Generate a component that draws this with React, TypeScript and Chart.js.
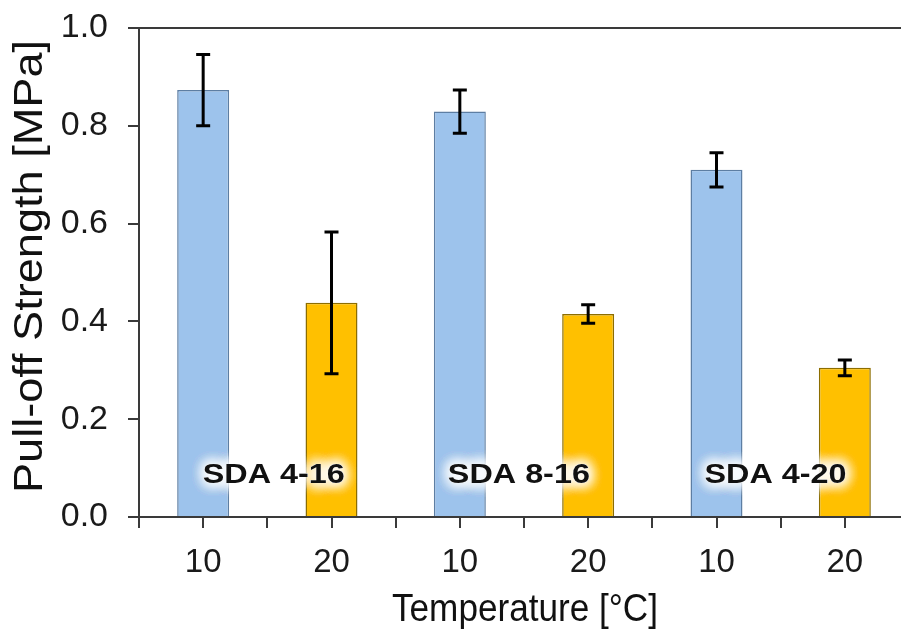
import React, { useEffect, useRef } from 'react';
import { Chart, registerables } from 'chart.js';

Chart.register(...registerables);

// ---- data ----
const temperatures = ['10', '20', '10', '20', '10', '20'];
const strength = [0.873, 0.438, 0.829, 0.415, 0.71, 0.305];
const strengthErr = [0.073, 0.145, 0.044, 0.019, 0.035, 0.016];
const groups = ['SDA 4-16', 'SDA 8-16', 'SDA 4-20'];
const groupLabelX = [0.55, 2.46, 4.46];
const groupLabelY = 0.07;
const yTicks = [0, 0.2, 0.4, 0.6, 0.8, 1.0];
const xTitle = 'Temperature [°C]';
const yTitle = 'Pull-off Strength [MPa]';

const FONT = '"Liberation Sans", Arial, Helvetica, sans-serif';
const BLUE = '#9dc3ec';
const BLUE_EDGE = '#5d7ea3';
const ORANGE = '#ffc000';
const ORANGE_EDGE = '#8c6d00';
const AXIS = '#3a3a3a';

function drawScaled(
  ctx: CanvasRenderingContext2D,
  text: string,
  x: number,
  y: number,
  font: string,
  targetWidth: number,
  rotate = 0
) {
  ctx.save();
  ctx.font = font;
  const w = ctx.measureText(text).width;
  const s = targetWidth / w;
  ctx.translate(x, y);
  if (rotate) ctx.rotate(rotate);
  ctx.scale(s, 1);
  ctx.textAlign = 'center';
  ctx.textBaseline = 'alphabetic';
  ctx.fillText(text, 0, 0);
  ctx.restore();
}

const decorPlugin = {
  id: 'decor',
  afterDatasetsDraw(chart: any) {
    const ctx: CanvasRenderingContext2D = chart.ctx;
    const xs = chart.scales.x;
    const ys = chart.scales.y;
    const area = chart.chartArea;

    // top frame line
    ctx.save();
    ctx.strokeStyle = AXIS;
    ctx.lineWidth = 2;
    ctx.beginPath();
    ctx.moveTo(area.left, area.top);
    ctx.lineTo(area.right, area.top);
    ctx.stroke();
    ctx.restore();

    // error bars
    ctx.save();
    ctx.strokeStyle = '#000';
    ctx.lineWidth = 3;
    strength.forEach((v, i) => {
      const x = xs.getPixelForValue(i);
      const yt = ys.getPixelForValue(v + strengthErr[i]);
      const yb = ys.getPixelForValue(v - strengthErr[i]);
      ctx.beginPath();
      ctx.moveTo(x, yt);
      ctx.lineTo(x, yb);
      ctx.moveTo(x - 7, yt);
      ctx.lineTo(x + 7, yt);
      ctx.moveTo(x - 7, yb);
      ctx.lineTo(x + 7, yb);
      ctx.stroke();
    });
    ctx.restore();

    // group labels with white glow
    groups.forEach((g, k) => {
      const x = xs.getPixelForValue(groupLabelX[k]);
      const y = ys.getPixelForValue(groupLabelY);
      const font = `bold 28px ${FONT}`;
      ctx.save();
      ctx.fillStyle = '#ffffff';
      ctx.shadowColor = 'rgba(255,255,255,1)';
      ctx.shadowBlur = 14;
      for (let r = 0; r < 6; r++) drawScaled(ctx, g, x, y, font, 142);
      ctx.restore();
      ctx.save();
      ctx.fillStyle = '#111111';
      drawScaled(ctx, g, x, y, font, 142);
      ctx.restore();
    });

    // axis titles
    ctx.save();
    ctx.fillStyle = '#111111';
    drawScaled(ctx, xTitle, (area.left + area.right) / 2 + 1, 621, `38px ${FONT}`, 266);
    drawScaled(ctx, yTitle, 42, 266.5, `40px ${FONT}`, 453, -Math.PI / 2);
    ctx.restore();
  },
};

export default function App() {
  const ref = useRef<HTMLCanvasElement | null>(null);

  useEffect(() => {
    if (!ref.current) return;
    const xTickValues: number[] = [];
    for (let i = 0; i <= temperatures.length * 2; i++) xTickValues.push(i / 2 - 0.5);

    const chart = new Chart(ref.current, {
      type: 'bar',
      data: {
        datasets: [
          {
            data: strength.map((v, i) => ({ x: i, y: v })),
            backgroundColor: strength.map((_, i) => (i % 2 === 0 ? BLUE : ORANGE)),
            borderColor: strength.map((_, i) => (i % 2 === 0 ? BLUE_EDGE : ORANGE_EDGE)),
            borderWidth: 1.5,
            borderSkipped: 'bottom',
            categoryPercentage: 1,
            barPercentage: 0.81,
          },
        ],
      },
      options: {
        animation: false,
        responsive: false,
        devicePixelRatio: 1,
        events: [],
        layout: { padding: { top: 28, right: 11, left: 0, bottom: 0 } },
        plugins: {
          legend: { display: false },
          tooltip: { enabled: false },
          title: { display: false },
        },
        scales: {
          x: {
            type: 'linear',
            min: -0.5,
            max: temperatures.length - 0.5,
            offset: false,
            afterBuildTicks: (scale: any) => {
              scale.ticks = xTickValues.map((v) => ({ value: v }));
            },
            afterFit: (scale: any) => {
              scale.height = 112;
              scale.paddingLeft = 0;
              scale.paddingRight = 0;
            },
            ticks: {
              autoSkip: false,
              maxRotation: 0,
              padding: 15,
              color: '#1a1a1a',
              font: { family: FONT, size: 33 },
              callback: (value: any) => {
                const v = Number(value);
                return Number.isInteger(v) ? temperatures[v] : '';
              },
            },
            grid: {
              offset: false,
              drawOnChartArea: false,
              drawTicks: true,
              tickLength: 11,
              color: AXIS,
              lineWidth: 2,
            },
            border: { display: true, color: AXIS, width: 2 },
          },
          y: {
            min: 0,
            max: 1,
            afterBuildTicks: (scale: any) => {
              scale.ticks = yTicks.map((v) => ({ value: v }));
            },
            afterFit: (scale: any) => {
              scale.width = 139;
              scale.paddingTop = 0;
              scale.paddingBottom = 0;
            },
            ticks: {
              padding: 20,
              color: '#1a1a1a',
              font: { family: FONT, size: 34 },
              callback: (value: any) => Number(value).toFixed(1),
            },
            grid: {
              drawOnChartArea: false,
              drawTicks: true,
              tickLength: 11,
              color: AXIS,
              lineWidth: 2,
            },
            border: { display: true, color: AXIS, width: 2 },
          },
        },
      },
      plugins: [decorPlugin],
    } as any);

    return () => chart.destroy();
  }, []);

  return (
    <div
      style={{
        position: 'fixed',
        left: 0,
        top: 0,
        width: 901,
        height: 629,
        overflow: 'hidden',
        background: '#ffffff',
      }}
    >
      <canvas ref={ref} width={920} height={629} style={{ display: 'block' }} />
    </div>
  );
}
